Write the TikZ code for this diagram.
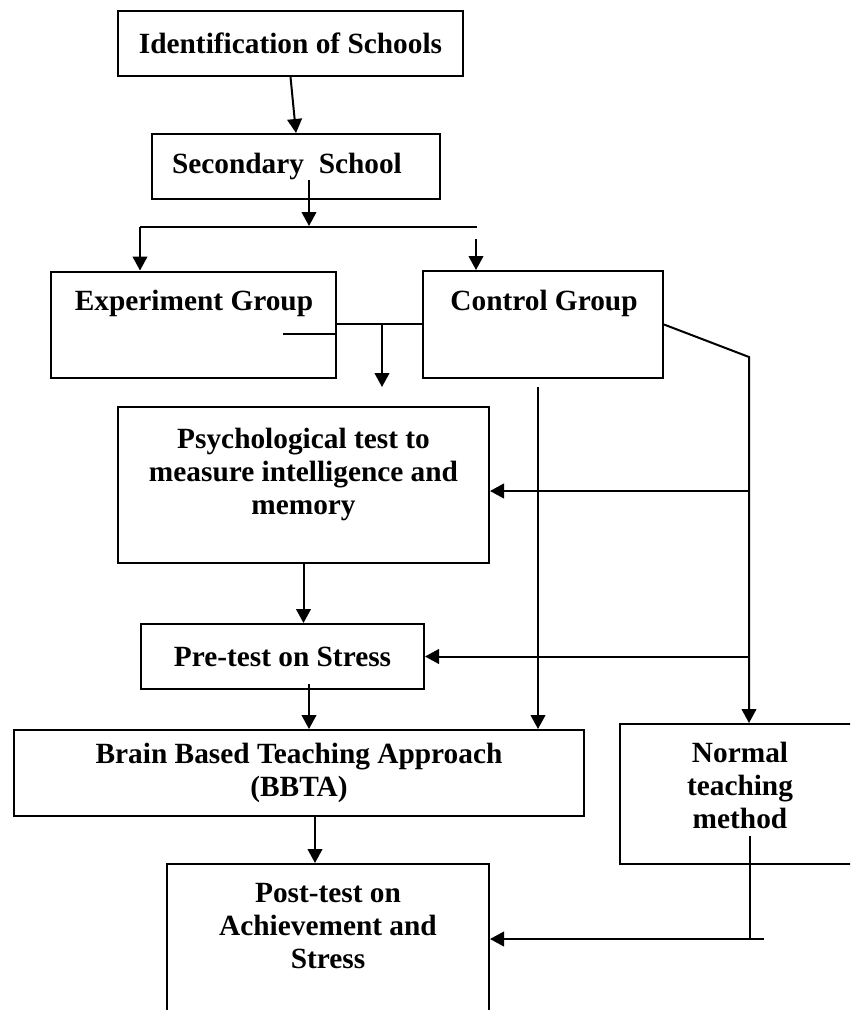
\documentclass[tikz,border=0pt]{standalone}
\usepackage{fontspec}
\setmainfont{Liberation Serif}
\usetikzlibrary{arrows.meta, positioning, calc}

\tikzset{
  box/.style={draw, line width=1.5pt, inner sep=0pt, align=center,
    font=\bfseries\fontsize{22}{24.75}\selectfont},
  txt/.style={inner sep=0pt, anchor=north, align=center,
    font=\bfseries\fontsize{22}{24.75}\selectfont},
  arr/.style={line width=1.5pt, -{Triangle[length=10.5pt, width=11pt]}},
  ln/.style={line width=1.5pt}
}

\begin{document}
\begin{tikzpicture}[x=0.75pt, y=-0.75pt]
\path[use as bounding box, clip] (0,0) rectangle (850,1010);

% Boxes
\node[box, minimum width=258.75pt, minimum height=48.75pt] (ident) at (290.5,43.5) {Identification of Schools};
\node[box, minimum width=216pt, minimum height=48.75pt] (sec) at (296,166.5) {};
\node[txt, anchor=center] (secTxt) at (287,166.5) {Secondary\ \ School};

\node[box, minimum width=213.75pt, minimum height=79.5pt] (exp) at (193.5,324.5) {};
\node[txt] (expTxt) at (194,290) {Experiment Group};

\node[box, minimum width=180pt, minimum height=80.25pt] (ctl) at (543,324.5) {};
\node[txt] (ctlTxt) at (544,290) {Control Group};

\node[box, minimum width=278.25pt, minimum height=117pt] (psy) at (303.5,485) {};
\node[txt] (psyTxt) at (303.5,428) {Psychological test to\\ measure intelligence and\\ memory};

\node[box, minimum width=212.25pt, minimum height=48.75pt] (pre) at (282.5,656.5) {Pre-test on Stress};

\node[box, minimum width=427.5pt, minimum height=64.5pt] (bbta) at (299,773) {Brain Based Teaching Approach\\ (BBTA)};

\node[box, minimum width=180pt, minimum height=105pt] (norm) at (740,794) {};
\node[txt] (normTxt) at (740,742) {Normal\\ teaching\\ method};

\node[box, minimum width=241.5pt, minimum height=132pt] (post) at (328,952) {};
\node[txt] (postTxt) at (328,883) {Post-test on\\ Achievement and\\ Stress};

% Free ends of the connectors
\coordinate (secOut) at (309,180);
\coordinate (split) at (309,226);
\coordinate (splitL) at (140,227);
\coordinate (splitR) at (477,227);
\coordinate (ctlIn) at (476,239);
\coordinate (expStub) at (283,334);
\coordinate (mid) at (382,324);
\coordinate (midEnd) at (382,387);
\coordinate (bend) at (749,357);
\coordinate (ctlDown) at (538,387);
\coordinate (preOut) at (309,684);
\coordinate (bbtaOut) at (315,815);
\coordinate (normOut) at (750,836);
\coordinate (joinR) at (764,939);

% Arrows
\draw[arr] (ident.south) -- (sec.north);
\draw[arr] (secOut) -- (split);
\draw[ln] (splitL) -- (splitR);
\draw[arr] (splitL) -- (splitL |- exp.north);
\draw[arr] (ctlIn) -- (ctlIn |- ctl.north);

\draw[ln] (expStub) -- (expStub -| exp.east);
\draw[ln] (mid -| exp.east) -- (mid -| ctl.west);
\draw[arr] (mid) -- (midEnd);

\draw[arr] (ctl.east) -- (bend) -- (bend |- norm.north);
\draw[arr] (bend |- 0,491) -- (psy.east |- 0,491);
\draw[arr] (bend |- pre.east) -- (pre.east);
\draw[arr] (ctlDown) -- (ctlDown |- bbta.north);

\draw[arr] (psy.south) -- (psy.south |- pre.north);
\draw[arr] (preOut) -- (preOut |- bbta.north);
\draw[arr] (bbtaOut) -- (bbtaOut |- post.north);

\draw[ln] (normOut) -- (normOut |- joinR);
\draw[arr] (joinR) -- (joinR -| post.east);

\end{tikzpicture}
\end{document}
